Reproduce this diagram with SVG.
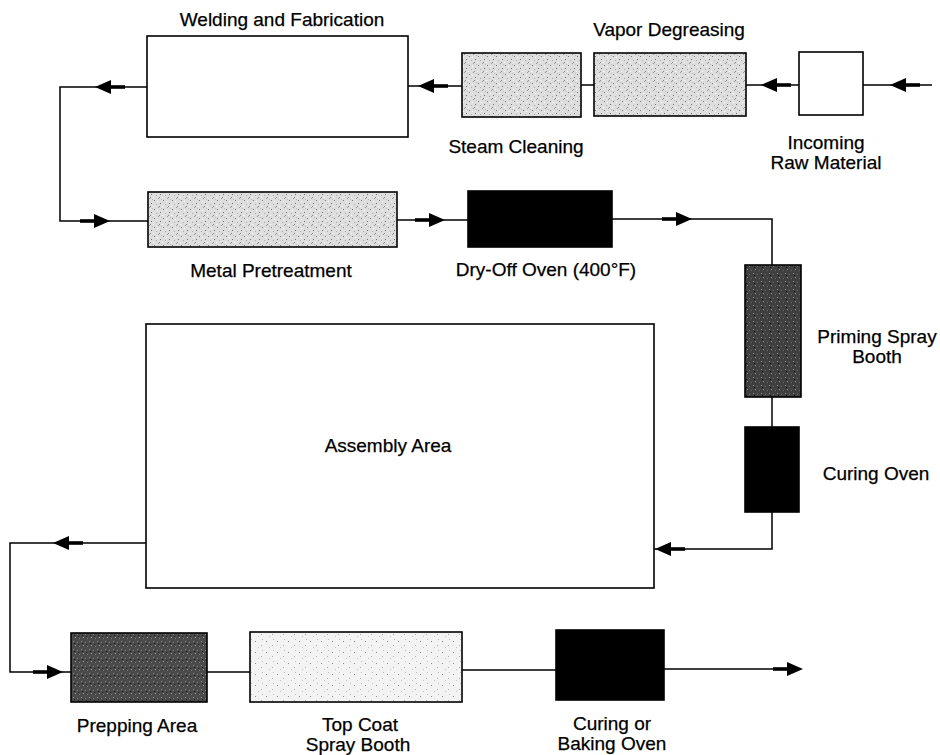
<svg xmlns="http://www.w3.org/2000/svg" xmlns:xlink="http://www.w3.org/1999/xlink" width="940" height="755" viewBox="0 0 940 755">
<defs>
<style>
.box{stroke:#000;stroke-width:1.6}
.w{fill:#fff}
.k{fill:#000}
.lt{fill:url(#pLight)}
.vl{fill:url(#pVeryLight)}
.dk{fill:url(#pDark)}
.dk2{fill:url(#pDarker)}
.ln{fill:none;stroke:#000;stroke-width:1.5}
.t{font-family:"Liberation Sans",Arial,Helvetica,sans-serif;font-size:19px;fill:#000;stroke:#000;stroke-width:0.25;text-anchor:middle}
</style>
<pattern id="pLight" width="9" height="9" patternUnits="userSpaceOnUse">
<rect width="9" height="9" fill="#dedede"/>
<rect x="1" y="2" width="1" height="1" fill="#7a7a7a"/>
<rect x="5" y="0" width="1" height="1" fill="#999"/>
<rect x="7" y="5" width="1" height="1" fill="#707070"/>
<rect x="3" y="6" width="1" height="1" fill="#aaa"/>
<rect x="0" y="8" width="1" height="1" fill="#fff"/>
<rect x="4" y="3" width="1" height="1" fill="#fff"/>
<rect x="8" y="1" width="1" height="1" fill="#bbb"/>
<rect x="6" y="8" width="1" height="1" fill="#888"/>
</pattern>
<pattern id="pVeryLight" width="11" height="11" patternUnits="userSpaceOnUse">
<rect width="11" height="11" fill="#f3f3f3"/>
<rect x="2" y="3" width="1" height="1" fill="#8a8a8a"/>
<rect x="8" y="7" width="1" height="1" fill="#aaa"/>
<rect x="5" y="9" width="1" height="1" fill="#c4c4c4"/>
<rect x="9" y="1" width="1" height="1" fill="#bbb"/>
</pattern>
<pattern id="pDark" width="8" height="8" patternUnits="userSpaceOnUse">
<rect width="8" height="8" fill="#4a4a4a"/>
<rect x="1" y="1" width="1" height="1" fill="#9a9a9a"/>
<rect x="5" y="2" width="1" height="1" fill="#888"/>
<rect x="3" y="5" width="1" height="1" fill="#a5a5a5"/>
<rect x="7" y="6" width="1" height="1" fill="#7c7c7c"/>
<rect x="2" y="3" width="1" height="1" fill="#1a1a1a"/>
<rect x="6" y="4" width="1" height="1" fill="#222"/>
</pattern>
<pattern id="pDarker" width="8" height="8" patternUnits="userSpaceOnUse">
<rect width="8" height="8" fill="#404040"/>
<rect x="1" y="1" width="1" height="1" fill="#8f8f8f"/>
<rect x="5" y="2" width="1" height="1" fill="#7a7a7a"/>
<rect x="3" y="5" width="1" height="1" fill="#999"/>
<rect x="7" y="6" width="1" height="1" fill="#6c6c6c"/>
<rect x="2" y="3" width="1" height="1" fill="#111"/>
</pattern>
<g id="ah">
<path d="M0,0 L-16,-7 L-16,7 Z" fill="#000"/>
<rect x="-30" y="-1.8" width="15" height="3.6" fill="#000"/>
</g>
</defs>

<g id="connectors">
<path class="ln" d="M932,85 H863"/>
<path class="ln" d="M799,85 H746"/>
<path class="ln" d="M594,85 H581"/>
<path class="ln" d="M462,86 H408"/>
<path class="ln" d="M147,87 H60 V221 H148"/>
<path class="ln" d="M397,220 H468"/>
<path class="ln" d="M612,219 H772 V265"/>
<path class="ln" d="M772,397 V427"/>
<path class="ln" d="M772,512 V549 H654"/>
<path class="ln" d="M146,543 H10 V672 H71"/>
<path class="ln" d="M207,672 H250"/>
<path class="ln" d="M462,670 H556"/>
<path class="ln" d="M664,669 H790"/>
<use xlink:href="#ah" transform="translate(890,85) rotate(180)"/>
<use xlink:href="#ah" transform="translate(761,85) rotate(180)"/>
<use xlink:href="#ah" transform="translate(418,86) rotate(180)"/>
<use xlink:href="#ah" transform="translate(95,87) rotate(180)"/>
<use xlink:href="#ah" transform="translate(110,221)"/>
<use xlink:href="#ah" transform="translate(445,220)"/>
<use xlink:href="#ah" transform="translate(692,219)"/>
<use xlink:href="#ah" transform="translate(655,549) rotate(180)"/>
<use xlink:href="#ah" transform="translate(53,543) rotate(180)"/>
<use xlink:href="#ah" transform="translate(63,672)"/>
<use xlink:href="#ah" transform="translate(803,669)"/>
</g>

<g id="welding">
<rect class="box w" x="147" y="36" width="261" height="101"/>
<text class="t" x="282" y="26">Welding and Fabrication</text>
</g>
<g id="steam">
<rect class="box lt" x="462" y="53" width="119" height="64"/>
<text class="t" x="516" y="153">Steam Cleaning</text>
</g>
<g id="vapor">
<rect class="box lt" x="594" y="53" width="152" height="63"/>
<text class="t" x="669" y="36">Vapor Degreasing</text>
</g>
<g id="incoming">
<rect class="box w" x="799" y="52" width="64" height="63"/>
<text class="t" x="826" y="149">Incoming</text>
<text class="t" x="826" y="169">Raw Material</text>
</g>
<g id="metal">
<rect class="box lt" x="148" y="192" width="249" height="55"/>
<text class="t" x="271" y="277">Metal Pretreatment</text>
</g>
<g id="dryoff">
<rect class="box k" x="468" y="191" width="144" height="56"/>
<text class="t" x="546" y="276">Dry-Off Oven (400°F)</text>
</g>
<g id="priming">
<rect class="box dk2" x="745" y="265" width="56" height="132"/>
<text class="t" x="877" y="343">Priming Spray</text>
<text class="t" x="877" y="363">Booth</text>
</g>
<g id="curing">
<rect class="box k" x="745" y="427" width="54" height="85"/>
<text class="t" x="876" y="480">Curing Oven</text>
</g>
<g id="assembly">
<rect class="box w" x="146" y="324" width="508" height="264"/>
<text class="t" x="388" y="452">Assembly Area</text>
</g>
<g id="prepping">
<rect class="box dk" x="71" y="633" width="136" height="69"/>
<text class="t" x="137" y="732">Prepping Area</text>
</g>
<g id="topcoat">
<rect class="box vl" x="250" y="632" width="212" height="70"/>
<text class="t" x="360" y="731">Top Coat</text>
<text class="t" x="358" y="751">Spray Booth</text>
</g>
<g id="baking">
<rect class="box k" x="556" y="630" width="108" height="70"/>
<text class="t" x="612" y="730">Curing or</text>
<text class="t" x="612" y="750">Baking Oven</text>
</g>
</svg>
